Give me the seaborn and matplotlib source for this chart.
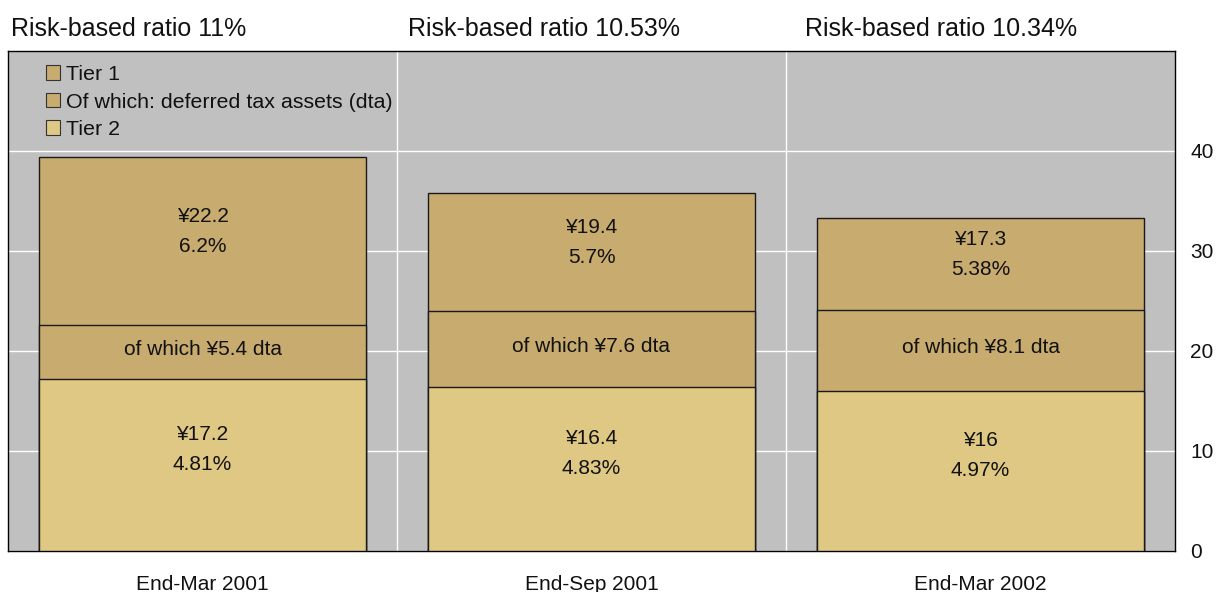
import matplotlib
matplotlib.use("Agg")
import matplotlib.pyplot as plt
import seaborn as sns
import pandas as pd
from matplotlib.patches import Patch
from matplotlib.transforms import blended_transform_factory

# Capital of major banks, trillion yen
periods = ["End-Mar 2001", "End-Sep 2001", "End-Mar 2002"]
tier1 = [22.2, 19.4, 17.3]          # Tier 1 total (includes dta)
dta = [5.4, 7.6, 8.1]               # of which: deferred tax assets
tier2 = [17.2, 16.4, 16.0]
tier1_pct = ["6.2%", "5.7%", "5.38%"]
tier2_pct = ["4.81%", "4.83%", "4.97%"]
risk_ratio = ["11%", "10.53%", "10.34%"]
y_ticks = [0, 10, 20, 30, 40]

C_T1 = "#c8ab6e"
C_DTA = "#c8ab6e"
C_T2 = "#dfc883"
BG = "#c0c0c0"
EDGE = "#1a1a1a"

sns.set_style("whitegrid", {
    "axes.facecolor": BG,
    "axes.edgecolor": "black",
    "grid.color": "white",
    "axes.grid": True,
})
plt.rcParams["font.family"] = ["Liberation Sans", "DejaVu Sans"]
plt.rcParams["text.color"] = "#111111"

df = pd.DataFrame({
    "period": periods,
    "total": [a + b for a, b in zip(tier1, tier2)],
    "dta_top": [b + d for b, d in zip(tier2, dta)],
    "tier2": tier2,
})

fig, ax = plt.subplots(figsize=(12.17, 5.92), dpi=100)
fig.subplots_adjust(left=8 / 1217, right=1175 / 1217, bottom=41 / 592, top=541 / 592)

bar_kw = dict(width=0.84, edgecolor=EDGE, linewidth=1.0, saturation=1, ax=ax, zorder=3)
# overlapping cumulative bars give the stacked segments
sns.barplot(data=df, x="period", y="total", color=C_T1, **bar_kw)
sns.barplot(data=df, x="period", y="dta_top", color=C_DTA, **bar_kw)
sns.barplot(data=df, x="period", y="tier2", color=C_T2, **bar_kw)

ax.set_xlim(-0.5, 2.5)
ax.set_ylim(0, 50)
ax.set_yticks(y_ticks)
ax.yaxis.tick_right()
ax.tick_params(axis="y", length=0, labelsize=15, pad=11, labelcolor="#111111")
ax.tick_params(axis="x", length=0, labelsize=15, pad=17, labelcolor="#111111")
ax.set_xlabel("")
ax.set_ylabel("")
ax.grid(axis="x", visible=False)
ax.grid(axis="y", color="white", linewidth=1)
ax.set_axisbelow(True)
for x in (0.5, 1.5):
    ax.axvline(x, color="white", linewidth=1, zorder=1)
for s in ax.spines.values():
    s.set_visible(True)
    s.set_color("black")
    s.set_linewidth(1)

lbl = dict(ha="center", va="center", fontsize=15, color="#111111",
           textcoords="offset points", linespacing=1.72, zorder=5)
for i in range(len(periods)):
    t2_mid = tier2[i] / 2
    ax.annotate(f"¥{tier2[i]:g}\n{tier2_pct[i]}", (i, t2_mid), xytext=(0, 11), **lbl)
    d_mid = tier2[i] + dta[i] / 2
    ax.annotate(f"of which ¥{dta[i]:g} dta", (i, d_mid), xytext=(0, 2), **lbl)
    t1_mid = tier2[i] + dta[i] + (tier1[i] - dta[i]) / 2
    ax.annotate(f"¥{tier1[i]:g}\n{tier1_pct[i]}", (i, t1_mid), xytext=(0, 7), **lbl)

# risk-based ratio headers above each period
trans = blended_transform_factory(ax.transData, fig.transFigure)
for i, r in enumerate(risk_ratio):
    ax.text(i - 0.492 + 0.02 * i, 1 - 36 / 592, f"Risk-based ratio {r}",
            transform=trans, ha="left", va="baseline", fontsize=18, color="#111111")

handles = [
    Patch(facecolor=C_T1, edgecolor="#333333", linewidth=0.8, label="Tier 1"),
    Patch(facecolor=C_DTA, edgecolor="#333333", linewidth=0.8,
          label="Of which: deferred tax assets (dta)"),
    Patch(facecolor=C_T2, edgecolor="#333333", linewidth=0.8, label="Tier 2"),
]
leg = ax.legend(handles=handles, loc="upper left", bbox_to_anchor=(38 / 1167, 0.972),
                frameon=False, fontsize=15.4, handlelength=0.65, handleheight=0.65,
                handletextpad=0.3, labelspacing=0.4, borderpad=0, borderaxespad=0)
leg.set_zorder(6)

fig.savefig("out.png", dpi=100)
